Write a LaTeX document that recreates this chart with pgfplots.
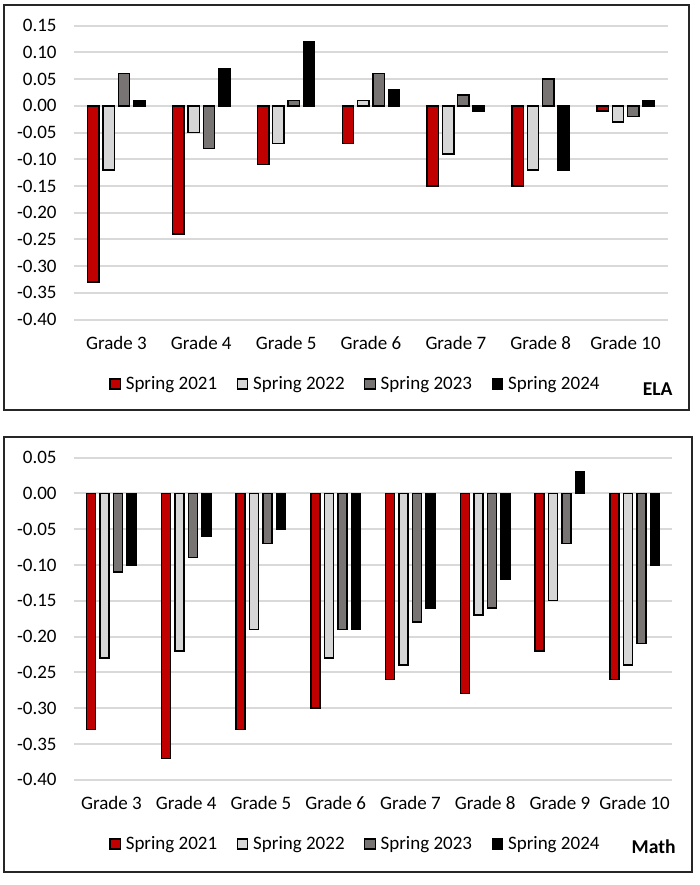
\documentclass[border=0pt]{standalone}
\usepackage{fontspec}
\setmainfont{Carlito}
\usepackage{pgfplots}
\pgfplotsset{compat=1.18}
\definecolor{cRed}{HTML}{C00000}
\definecolor{cLight}{HTML}{D6D6D6}
\definecolor{cGray}{HTML}{787474}
\definecolor{cGrid}{HTML}{D9D9D9}
\definecolor{cFrame}{HTML}{262626}
\pgfplotsset{
  mybars/.style={
    scale only axis,
    clip=false,
    axis line style={draw=none},
    major tick length=0pt,
    ymajorgrids,
    grid style={color=cGrid, line width=1pt},
    /pgf/number format/assume math mode=true,
    /pgf/number format/fixed,
    /pgf/number format/fixed zerofill,
    /pgf/number format/precision=2,
    ticklabel style={font=\fontsize{9.5pt}{11pt}\selectfont},
    yticklabel style={anchor=east, inner sep=0pt, xshift=-8.5pt},
    xticklabel style={anchor=center, inner sep=0pt, yshift=-11.7pt},
    xtick={0,...,7},
    legend columns=4,
    legend style={draw=none, fill=none, inner sep=0pt, anchor=west,
      font=\fontsize{9.5pt}{11pt}\selectfont,
      nodes={inner sep=0pt},
      /tikz/every odd column/.style={column sep=2.4pt},
      /tikz/every even column/.style={column sep=9.8pt}},
  },
  s1/.style={fill=cRed, draw=black, line width=0.7pt},
  s2/.style={fill=cLight, draw=black, line width=0.7pt},
  s3/.style={fill=cGray, draw=black, line width=0.7pt},
  s4/.style={fill=black, draw=black, line width=0.7pt},
}
\begin{document}
\begin{tikzpicture}
\path (0pt,0pt) rectangle (350pt,-442.5pt);
\draw[cFrame, line width=1pt] (2pt,-2.5pt) rectangle (344.5pt,-205pt);
\draw[cFrame, line width=1pt] (2pt,-218.5pt) rectangle (346pt,-436pt);
% ELA
\begin{axis}[mybars,
  at={(37pt,-159.8pt)}, anchor=south west,
  width=297pt, height=147pt,
  xmin=-0.5, xmax=6.5,
  ymin=-0.40, ymax=0.15,
  ytick={-0.40,-0.35,-0.30,-0.25,-0.20,-0.15,-0.10,-0.05,0,0.05,0.10,0.15},
  xticklabels={Grade 3,Grade 4,Grade 5,Grade 6,Grade 7,Grade 8,Grade 10},
  ybar=1.95pt, bar width=5.7pt,
  legend image code/.code={\draw[#1, line width=0.6pt] (0pt,-2.5pt) rectangle (5.2pt,2.5pt);},
  legend style={at={(0.0589,-0.219)}},
]
\addplot[s1] coordinates {(0,-0.33) (1,-0.24) (2,-0.11) (3,-0.07) (4,-0.15) (5,-0.15) (6,-0.01)};
\addplot[s2] coordinates {(0,-0.12) (1,-0.05) (2,-0.07) (3,0.01) (4,-0.09) (5,-0.12) (6,-0.03)};
\addplot[s3] coordinates {(0,0.06) (1,-0.08) (2,0.01) (3,0.06) (4,0.02) (5,0.05) (6,-0.02)};
\addplot[s4] coordinates {(0,0.01) (1,0.07) (2,0.12) (3,0.03) (4,-0.01) (5,-0.12) (6,0.01)};
\legend{Spring 2021,Spring 2022,Spring 2023,Spring 2024}
\node[anchor=east, inner sep=0pt, font=\fontsize{9.8pt}{11pt}\selectfont\bfseries] at (rel axis cs:1.0084,-0.236) {ELA};
\end{axis}
% Math
\begin{axis}[mybars,
  at={(37pt,-389.85pt)}, anchor=south west,
  width=299pt, height=161.1pt,
  xmin=-0.5, xmax=7.5,
  ymin=-0.40, ymax=0.05,
  ytick={-0.40,-0.35,-0.30,-0.25,-0.20,-0.15,-0.10,-0.05,0,0.05},
  xticklabels={Grade 3,Grade 4,Grade 5,Grade 6,Grade 7,Grade 8,Grade 9,Grade 10},
  ybar=2.2pt, bar width=4.55pt,
  legend image code/.code={\draw[#1, line width=0.6pt] (0pt,-2.5pt) rectangle (5.2pt,2.5pt);},
  legend style={at={(0.0585,-0.1996)}},
]
\addplot[s1] coordinates {(0,-0.33) (1,-0.37) (2,-0.33) (3,-0.30) (4,-0.26) (5,-0.28) (6,-0.22) (7,-0.26)};
\addplot[s2] coordinates {(0,-0.23) (1,-0.22) (2,-0.19) (3,-0.23) (4,-0.24) (5,-0.17) (6,-0.15) (7,-0.24)};
\addplot[s3] coordinates {(0,-0.11) (1,-0.09) (2,-0.07) (3,-0.19) (4,-0.18) (5,-0.16) (6,-0.07) (7,-0.21)};
\addplot[s4] coordinates {(0,-0.10) (1,-0.06) (2,-0.05) (3,-0.19) (4,-0.16) (5,-0.12) (6,0.03) (7,-0.10)};
\legend{Spring 2021,Spring 2022,Spring 2023,Spring 2024}
\node[anchor=east, inner sep=0pt, font=\fontsize{9.8pt}{11pt}\selectfont\bfseries] at (rel axis cs:1.0067,-0.209) {Math};
\end{axis}
\end{tikzpicture}
\end{document}
